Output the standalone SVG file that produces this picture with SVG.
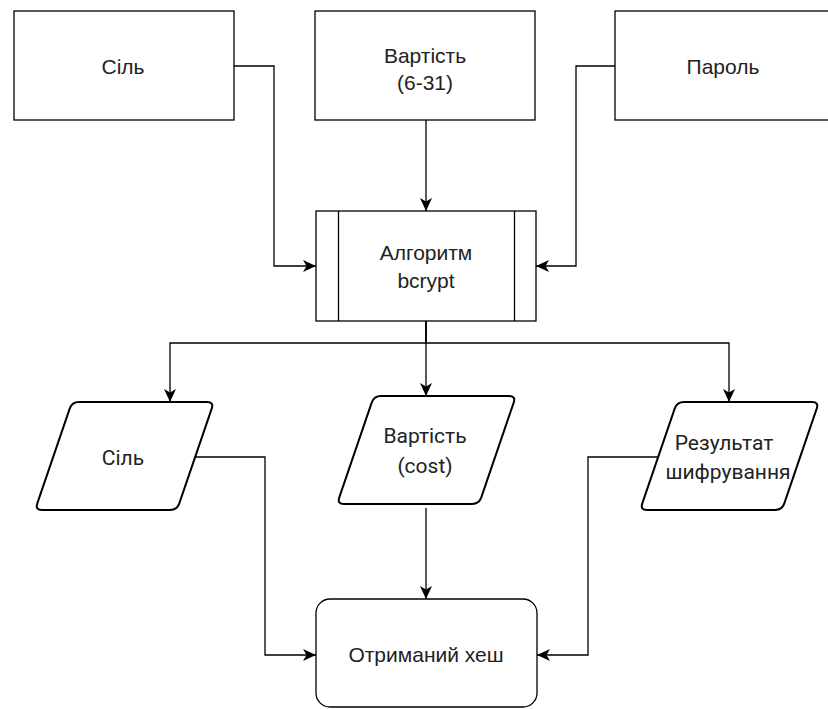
<svg xmlns="http://www.w3.org/2000/svg" width="828" height="709" viewBox="0 0 828 709">
  <defs>
    <marker id="arrow" viewBox="0 0 13 12" refX="13" refY="6" markerWidth="13" markerHeight="12" markerUnits="userSpaceOnUse" orient="auto">
      <path d="M0,0 L13,6 L0,12 L3.5,6 Z" fill="#000"/>
    </marker>
  </defs>
  <style>
    .box { fill: #fff; stroke: #000; stroke-width: 1.3; }
    .para { fill: #fff; stroke: #000; stroke-width: 2; stroke-linejoin: round; }
    .edge { fill: none; stroke: #000; stroke-width: 1.3; marker-end: url(#arrow); }
    .lbl { font-family: "Liberation Sans", Arial, sans-serif; font-size: 21px; fill: #222; text-anchor: middle; }
    .lbl2 { font-family: Roboto, "Liberation Sans", sans-serif; font-size: 21px; fill: #222; text-anchor: middle; }
  </style>

  <rect width="828" height="709" fill="#fff"/>

  <!-- input boxes -->
  <g id="salt-in">
    <rect class="box" x="14" y="11" width="220" height="109"/>
    <text class="lbl" x="123" y="74">Сіль</text>
  </g>
  <g id="cost-in">
    <rect class="box" x="315" y="11" width="220" height="109"/>
    <text class="lbl" x="425" y="63">Вартість</text>
    <text class="lbl" x="425" y="90">(6-31)</text>
  </g>
  <g id="password-in">
    <rect class="box" x="615" y="11" width="220" height="109"/>
    <text class="lbl" x="723" y="74">Пароль</text>
  </g>

  <!-- bcrypt process -->
  <g id="bcrypt">
    <rect class="box" x="316" y="211" width="220" height="110"/>
    <line x1="338.5" y1="211" x2="338.5" y2="321" stroke="#000" stroke-width="1.3"/>
    <line x1="514.5" y1="211" x2="514.5" y2="321" stroke="#000" stroke-width="1.3"/>
    <text class="lbl" x="426" y="260">Алгоритм</text>
    <text class="lbl" x="426" y="288">bcrypt</text>
  </g>

  <!-- outputs -->
  <g id="salt-out">
    <path class="para" transform="translate(35,402)" d="M44,0 L172,0 Q179,0 176.7,6.6 L144.3,101.4 Q142,108 135,108 L7,108 Q0,108 2.3,101.4 L34.7,6.6 Q37,0 44,0 Z"/>
    <text class="lbl2" x="123" y="465">Сіль</text>
  </g>
  <g id="cost-out">
    <path class="para" transform="translate(337,396)" d="M44,0 L172,0 Q179,0 176.7,6.6 L144.3,101.4 Q142,108 135,108 L7,108 Q0,108 2.3,101.4 L34.7,6.6 Q37,0 44,0 Z"/>
    <text class="lbl2" x="425" y="443">Вартість</text>
    <text class="lbl2" x="425" y="473">(cost)</text>
  </g>
  <g id="cipher-out">
    <path class="para" transform="translate(640,402)" d="M44,0 L172,0 Q179,0 176.7,6.6 L144.3,101.4 Q142,108 135,108 L7,108 Q0,108 2.3,101.4 L34.7,6.6 Q37,0 44,0 Z"/>
    <text class="lbl2" x="724" y="450">Результат</text>
    <text class="lbl2" x="728" y="479">шифрування</text>
  </g>

  <!-- final hash -->
  <g id="hash">
    <rect class="box" x="316" y="599" width="221" height="108" rx="14"/>
    <text class="lbl" x="426" y="662">Отриманий хеш</text>
  </g>

  <!-- connectors -->
  <g id="connectors">
    <path class="edge" d="M234,66 H274 V266 H316"/>
    <path class="edge" d="M426,120 V211"/>
    <path class="edge" d="M615,66 H576 V266 H536"/>
    <path class="edge" d="M426,321 V343 H170 V402"/>
    <path class="edge" d="M426,321 V396"/>
    <path class="edge" d="M426,321 V343 H729 V402"/>
    <path class="edge" d="M196,457 H265 V655 H316"/>
    <path class="edge" d="M426,508 V599"/>
    <path class="edge" d="M658,457 H588 V655 H537"/>
  </g>
</svg>
